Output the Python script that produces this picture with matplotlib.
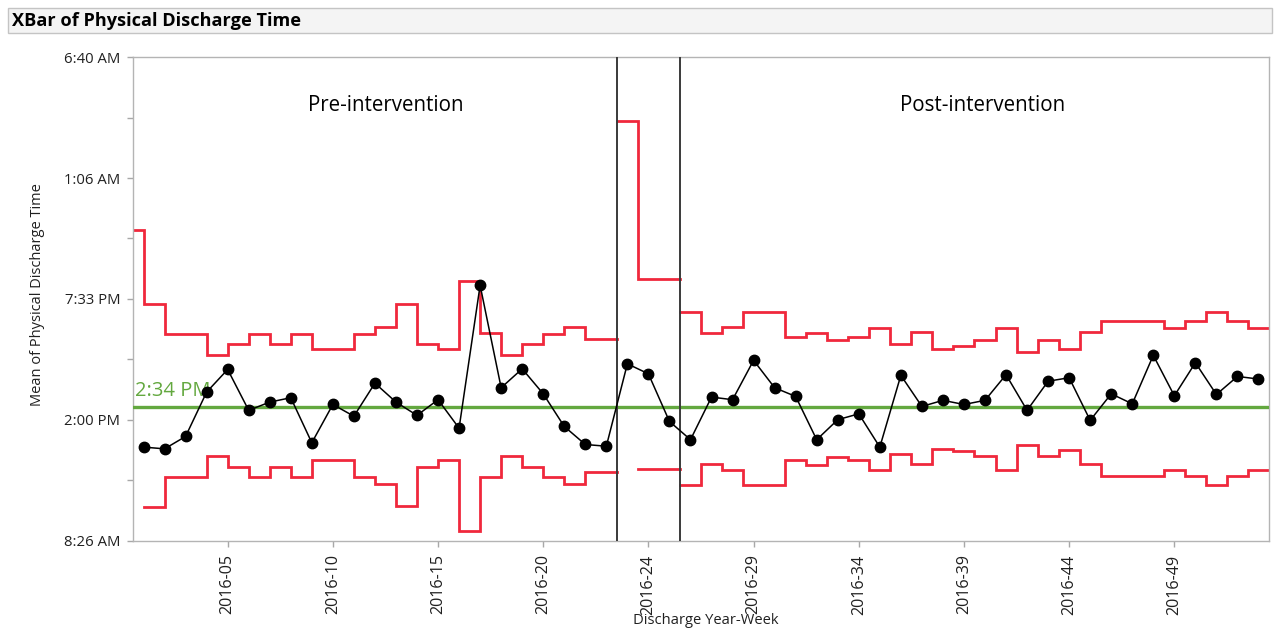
import numpy as np
import matplotlib
matplotlib.use("Agg")
import matplotlib.pyplot as plt
from matplotlib.patches import Rectangle
from matplotlib.ticker import FixedLocator, FuncFormatter

plt.rcParams['font.family'] = ['Open Sans', 'DejaVu Sans']

# ---- data: weekly means and control limits, in hours of the day (values > 24 = next day)
pre_weeks = [f"2016-{w:02d}" for w in range(1, 24)]
int_weeks = ["2016-23", "2016-24", "2016-25"]
post_weeks = [f"2016-{w:02d}" for w in range(26, 54)]

pre_mean = [12.74, 12.66, 13.23, 15.27, 16.31, 14.43, 14.81, 15.01, 12.94, 14.70,
            14.16, 15.68, 14.81, 14.20, 14.92, 13.61, 20.18, 15.47, 16.34, 15.19,
            13.69, 12.86, 12.78]
int_mean = [16.57, 16.11, 13.92]
post_mean = [13.08, 15.04, 14.92, 16.73, 15.47, 15.07, 13.08, 14.00, 14.27, 12.74,
             16.04, 14.61, 14.89, 14.70, 14.89, 16.07, 14.43, 15.77, 15.93, 13.97,
             15.19, 14.73, 16.96, 15.10, 16.62, 15.16, 15.99, 15.87]

pre_ucl = [22.74, 19.33, 17.95, 17.95, 16.99, 17.49, 17.95, 17.49, 17.95, 17.23,
           17.23, 17.95, 18.26, 19.30, 17.49, 17.23, 20.37, 17.98, 16.99, 17.49,
           17.95, 18.26, 17.72]
pre_lcl = [np.nan, 9.98, 11.36, 11.36, 12.31, 11.82, 11.36, 11.82, 11.36, 12.13,
           12.13, 11.36, 11.05, 10.01, 11.82, 12.13, 8.90, 11.36, 12.31, 11.82,
           11.36, 11.05, 11.59]
int_ucl = [27.72, 20.49, 20.49]
int_lcl = [np.nan, 11.74, 11.74]
post_ucl = [18.95, 17.98, 18.26, 18.95, 18.95, 17.80, 17.98, 17.65, 17.80, 18.23,
            17.49, 18.03, 17.26, 17.37, 17.65, 18.23, 17.11, 17.65, 17.26, 18.03,
            18.53, 18.53, 18.53, 18.23, 18.53, 18.95, 18.53, 18.23]
post_lcl = [10.98, 11.94, 11.70, 10.98, 10.98, 12.13, 11.93, 12.28, 12.13, 11.70,
            12.43, 11.97, 12.63, 12.54, 12.31, 11.70, 12.82, 12.31, 12.62, 11.97,
            11.39, 11.39, 11.39, 11.70, 11.39, 10.98, 11.39, 11.70]

center_line = 14 + 34 / 60          # 2:34 PM
phase_names = ["Pre-intervention", "Post-intervention"]

# ---- y scale: 8:26:40 AM to 6:40 AM next day, major ticks every 5h33m20s
y_lo = 8 + 26 / 60 + 40 / 3600
y_step = 20000 / 3600
y_hi = y_lo + 4 * y_step

RED = "#f0283c"
GREEN = "#63a83f"


def clock(h, pos=None):
    total_min = int(np.floor(h * 60 + 1e-6)) % (24 * 60)
    hh, mm = divmod(total_min, 60)
    suffix = "AM" if hh < 12 else "PM"
    hh12 = hh % 12
    if hh12 == 0:
        hh12 = 12
    return f"{hh12}:{mm:02d} {suffix}"


def stair_xy(edges, values):
    xs, ys = [], []
    for i, v in enumerate(values):
        xs += [edges[i], edges[i + 1]]
        ys += [v, v]
    return xs, ys


W, H = 1277, 631
fig = plt.figure(figsize=(W / 100, H / 100), dpi=100)
ax = fig.add_axes([133 / W, (H - 540.5) / H, (1269 - 133) / W, (540.5 - 57.3) / H])

weeks = pre_weeks + int_weeks + post_weeks
means = pre_mean + int_mean + post_mean
x = np.arange(len(weeks))
n_pre, n_int = len(pre_weeks), len(int_weeks)
b1 = n_pre - 0.5
b2 = n_pre + n_int - 0.5

# control limits per phase
pre_edges = np.concatenate([[-0.5], np.arange(0, n_pre - 1), [b1]])
int_edges = np.arange(n_pre, n_pre + n_int + 1) - 0.5
post_edges = np.arange(n_pre + n_int, len(weeks) + 1) - 0.5
for edges, ucl, lcl in [(pre_edges, pre_ucl, pre_lcl),
                        (int_edges, int_ucl, int_lcl),
                        (post_edges, post_ucl, post_lcl)]:
    for lim in (ucl, lcl):
        sx, sy = stair_xy(edges, lim)
        ax.plot(sx, sy, color=RED, lw=2.0, zorder=2, solid_joinstyle="miter")

# center line
ax.axhline(center_line, color=GREEN, lw=2.4, zorder=3)
ax.text(-0.4, center_line + 0.3, clock(center_line), color=GREEN, fontsize=14.5,
        ha="left", va="bottom", zorder=4)

# phase boundaries
for b in (b1, b2):
    ax.axvline(b, color="#3a3a3a", lw=1.4, zorder=4)

# weekly means
ax.plot(x, means, color="black", lw=1.1, marker="o", ms=7.5, zorder=5)

# phase titles
ax.text(11.5, 28.45, phase_names[0], fontsize=14.8, ha="center", va="center")
ax.text(39.9, 28.45, phase_names[1], fontsize=14.8, ha="center", va="center")

ax.set_xlim(-0.5, len(weeks) - 0.5)
ax.set_ylim(y_lo, y_hi)

ax.yaxis.set_major_locator(FixedLocator([y_lo + k * y_step for k in range(5)]))
ax.yaxis.set_minor_locator(FixedLocator([y_lo + (k + 0.5) * y_step for k in range(4)]))
ax.yaxis.set_major_formatter(FuncFormatter(clock))

label_idx = list(range(4, len(weeks), 5))
ax.set_xticks(label_idx)
ax.set_xticklabels([weeks[i] for i in label_idx], rotation=90)

for s in ax.spines.values():
    s.set_color("#b4b4b4")
    s.set_linewidth(1.0)
ax.tick_params(axis="both", which="both", color="#a8a8a8", length=4, width=1,
               labelcolor="#202020")
ax.tick_params(axis="y", pad=5, labelsize=10.75)
ax.tick_params(axis="x", pad=6, labelsize=11.6)

fig.text(38 / W, 1 - 295 / H, "Mean of Physical Discharge Time", rotation=90,
         ha="center", va="center", fontsize=10.5, color="#202020")
fig.text(706 / W, 1 - 621 / H, "Discharge Year-Week", ha="center", va="center",
         fontsize=10.6, color="#202020")

# title bar
fig.patches.append(Rectangle((8 / W, 1 - 33 / H), (1272 - 8) / W, 25 / H,
                             transform=fig.transFigure, facecolor="#f4f4f4",
                             edgecolor="#c4c4c4", lw=1.0))
fig.text(12 / W, 1 - 20.5 / H, "XBar of Physical Discharge Time", fontsize=13.1,
         fontweight="bold", ha="left", va="center", color="black")

fig.savefig("out.png", dpi=100)
